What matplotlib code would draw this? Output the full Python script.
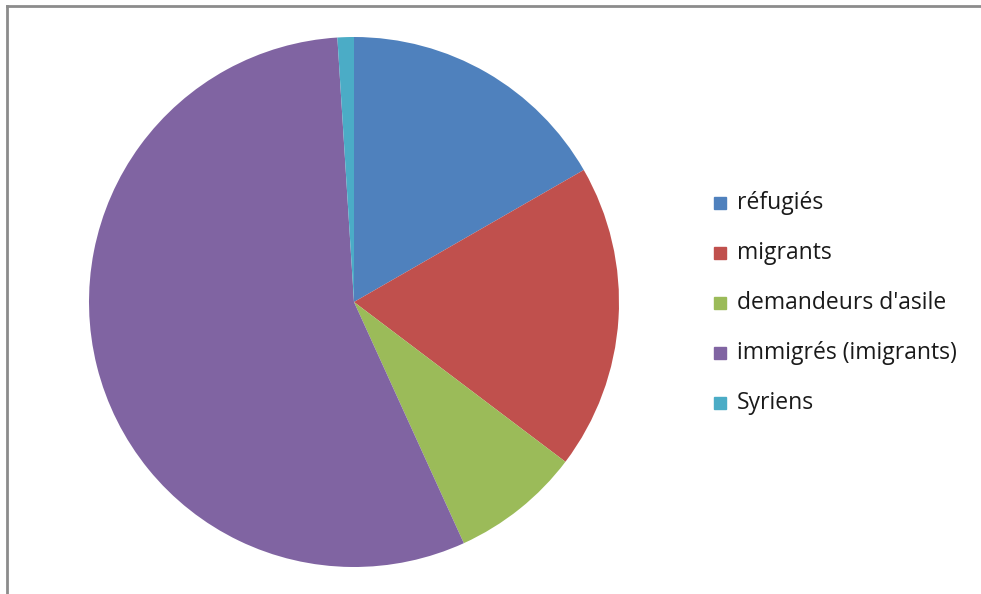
import matplotlib.pyplot as plt
from matplotlib.patches import Rectangle
from matplotlib.lines import Line2D

labels = ["réfugiés", "migrants", "demandeurs d'asile", "immigrés (imigrants)", "Syriens"]
shares = [16.7, 18.6, 7.9, 55.8, 1.0]
colors = ["#4F81BD", "#C0504D", "#9BBB59", "#8064A2", "#4BACC6"]

W, H = 981, 594
fig = plt.figure(figsize=(W / 100, H / 100), dpi=100)

# pie area: centre (354, 302) px, radius 265 px
cx, cy, r = 354, 302, 265
ax = fig.add_axes([(cx - r) / W, (H - cy - r) / H, 2 * r / W, 2 * r / H])
ax.pie(shares, colors=colors, startangle=90, counterclock=False,
       wedgeprops=dict(linewidth=0))
ax.set_xlim(-1, 1)
ax.set_ylim(-1, 1)
ax.set_aspect("equal")
ax.axis("off")

# legend on the right
for i, (lab, col) in enumerate(zip(labels, colors)):
    y = 203 + 50 * i
    fig.patches.append(Rectangle(((714) / W, 1 - (y + 6) / H), 12 / W, 12 / H,
                                 transform=fig.transFigure, color=col))
    fig.text(737 / W, 1 - y / H, lab, fontsize=16.5, family="Open Sans",
             va="center", ha="left", color="#1a1a1a")

# chart frame (top and left edges)
fig.lines.append(Line2D([7 / W, 1], [1 - 6 / H, 1 - 6 / H], transform=fig.transFigure,
                        color="#8c8c8c", linewidth=2))
fig.lines.append(Line2D([7 / W, 7 / W], [0, 1 - 6 / H], transform=fig.transFigure,
                        color="#8c8c8c", linewidth=2))

fig.savefig("out.png", dpi=100)
